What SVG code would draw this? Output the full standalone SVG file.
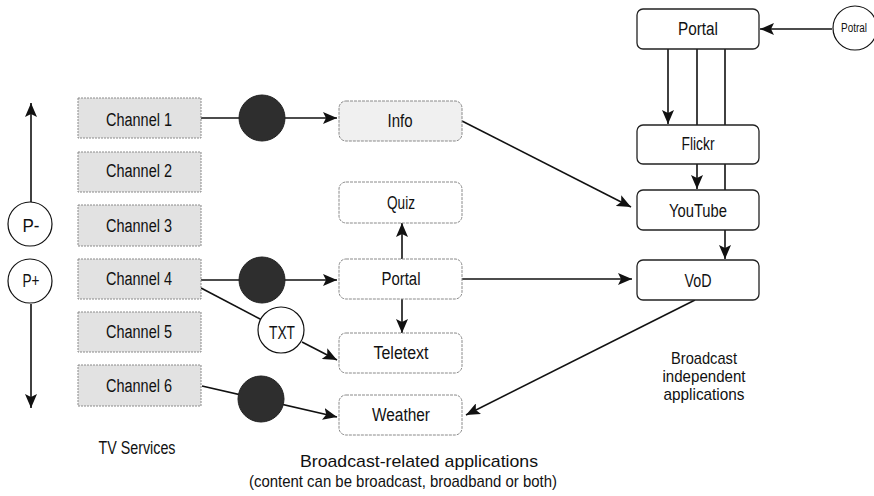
<svg xmlns="http://www.w3.org/2000/svg" width="874" height="496" viewBox="0 0 874 496">
<style>
text{font-family:"Liberation Sans",Arial,sans-serif;font-size:18px;fill:#111;text-anchor:middle}
.small{font-size:12px}
.cap{font-size:17px}
.chan{fill:#e2e2e2;stroke:#8a8a8a;stroke-width:1;stroke-dasharray:2 1}
.app{fill:#fff;stroke:#8a8a8a;stroke-width:1;stroke-dasharray:3 1}
.appf{fill:#f0f0f0;stroke:#8a8a8a;stroke-width:1;stroke-dasharray:3 1}
.ind{fill:#fff;stroke:#222;stroke-width:1.3}
.circ{fill:#fff;stroke:#111;stroke-width:1.2}
.dark{fill:#2e2e2e;stroke:#222;stroke-width:1}
.ln{fill:none;stroke:#111;stroke-width:1.6}
.arr{marker-end:url(#ah)}
</style>
<defs>
<marker id="ah" markerUnits="userSpaceOnUse" markerWidth="15" markerHeight="12" refX="14" refY="6" orient="auto">
<path d="M0,0 L14,6 L0,12 L3,6 z" fill="#111"/>
</marker>
</defs>

<g id="connectors">
<line class="ln arr" x1="31" y1="202" x2="31" y2="103"/>
<line class="ln arr" x1="31" y1="304" x2="31" y2="408"/>
<line class="ln arr" x1="201" y1="118" x2="337" y2="118"/>
<line class="ln arr" x1="201" y1="280" x2="337" y2="280"/>
<line class="ln" x1="201" y1="288" x2="262" y2="320"/>
<line class="ln arr" x1="302" y1="342" x2="337" y2="360"/>
<line class="ln arr" x1="202" y1="386" x2="337" y2="417"/>
<line class="ln arr" x1="402" y1="259" x2="402" y2="223"/>
<line class="ln arr" x1="402" y1="299" x2="402" y2="333"/>
<line class="ln arr" x1="462" y1="121" x2="631" y2="207"/>
<line class="ln arr" x1="462" y1="279" x2="632" y2="279"/>
<line class="ln arr" x1="695" y1="300" x2="466" y2="415"/>
<line class="ln arr" x1="832" y1="29" x2="760" y2="29"/>
<line class="ln arr" x1="668" y1="49" x2="668" y2="124"/>
<line class="ln arr" x1="697" y1="49" x2="697" y2="189"/>
<line class="ln arr" x1="725" y1="49" x2="725" y2="259"/>
</g>

<g id="pminus"><circle class="circ" cx="30" cy="224" r="22"/><text x="31" y="232" textLength="17" lengthAdjust="spacingAndGlyphs">P-</text></g>
<g id="pplus"><circle class="circ" cx="30" cy="281" r="22"/><text x="31" y="287" textLength="17" lengthAdjust="spacingAndGlyphs">P+</text></g>

<g id="channel1"><rect class="chan" x="78" y="98" width="123" height="40"/><text x="139" y="126" textLength="66" lengthAdjust="spacingAndGlyphs">Channel 1</text></g>
<g id="channel2"><rect class="chan" x="78" y="152" width="123" height="40"/><text x="139" y="177" textLength="66" lengthAdjust="spacingAndGlyphs">Channel 2</text></g>
<g id="channel3"><rect class="chan" x="78" y="205" width="123" height="41"/><text x="139" y="232" textLength="66" lengthAdjust="spacingAndGlyphs">Channel 3</text></g>
<g id="channel4"><rect class="chan" x="78" y="259" width="123" height="40"/><text x="139" y="285" textLength="66" lengthAdjust="spacingAndGlyphs">Channel 4</text></g>
<g id="channel5"><rect class="chan" x="78" y="312" width="123" height="40"/><text x="139" y="338" textLength="66" lengthAdjust="spacingAndGlyphs">Channel 5</text></g>
<g id="channel6"><rect class="chan" x="78" y="365" width="123" height="41"/><text x="139" y="392" textLength="66" lengthAdjust="spacingAndGlyphs">Channel 6</text></g>

<g id="dot1"><circle class="dark" cx="262" cy="118" r="23"/></g>
<g id="dot4"><circle class="dark" cx="262" cy="280" r="23"/></g>
<g id="dot6"><circle class="dark" cx="261" cy="399" r="23"/></g>
<g id="txt"><circle class="circ" cx="281" cy="330" r="23"/><text x="282" y="339" textLength="26" lengthAdjust="spacingAndGlyphs">TXT</text></g>

<g id="info"><rect class="appf" x="339" y="101" width="123" height="40" rx="7"/><text x="400" y="127" textLength="25" lengthAdjust="spacingAndGlyphs">Info</text></g>
<g id="quiz"><rect class="app" x="339" y="182" width="123" height="41" rx="7"/><text x="401" y="209" textLength="28" lengthAdjust="spacingAndGlyphs">Quiz</text></g>
<g id="portal-b"><rect class="app" x="339" y="259" width="123" height="40" rx="7"/><text x="401" y="285" textLength="39" lengthAdjust="spacingAndGlyphs">Portal</text></g>
<g id="teletext"><rect class="app" x="339" y="333" width="123" height="40" rx="7"/><text x="401" y="359" textLength="55" lengthAdjust="spacingAndGlyphs">Teletext</text></g>
<g id="weather"><rect class="app" x="339" y="395" width="123" height="40" rx="7"/><text x="401" y="421" textLength="58" lengthAdjust="spacingAndGlyphs">Weather</text></g>

<g id="portal-i"><rect class="ind" x="637" y="9" width="122" height="40" rx="6"/><text x="698" y="35" textLength="40" lengthAdjust="spacingAndGlyphs">Portal</text></g>
<g id="flickr"><rect class="ind" x="637" y="125" width="122" height="39" rx="6"/><text x="698" y="150" textLength="33" lengthAdjust="spacingAndGlyphs">Flickr</text></g>
<g id="youtube"><rect class="ind" x="637" y="190" width="122" height="40" rx="6"/><text x="698" y="217" textLength="58" lengthAdjust="spacingAndGlyphs">YouTube</text></g>
<g id="vod"><rect class="ind" x="637" y="260" width="122" height="40" rx="6"/><text x="698" y="287" textLength="27" lengthAdjust="spacingAndGlyphs">VoD</text></g>
<g id="potral"><circle class="circ" cx="855" cy="28" r="22"/><text class="small" x="854" y="32" textLength="26" lengthAdjust="spacingAndGlyphs">Potral</text></g>

<g id="labels">
<text x="137" y="454" textLength="77" lengthAdjust="spacingAndGlyphs">TV Services</text>
<text class="cap" x="419" y="467" textLength="238" lengthAdjust="spacingAndGlyphs">Broadcast-related applications</text>
<text class="cap" x="403" y="487" textLength="308" lengthAdjust="spacingAndGlyphs">(content can be broadcast, broadband or both)</text>
<text class="cap" x="704" y="364" textLength="66" lengthAdjust="spacingAndGlyphs">Broadcast</text>
<text class="cap" x="704" y="382" textLength="83" lengthAdjust="spacingAndGlyphs">independent</text>
<text class="cap" x="704" y="400" textLength="81" lengthAdjust="spacingAndGlyphs">applications</text>
</g>
</svg>
